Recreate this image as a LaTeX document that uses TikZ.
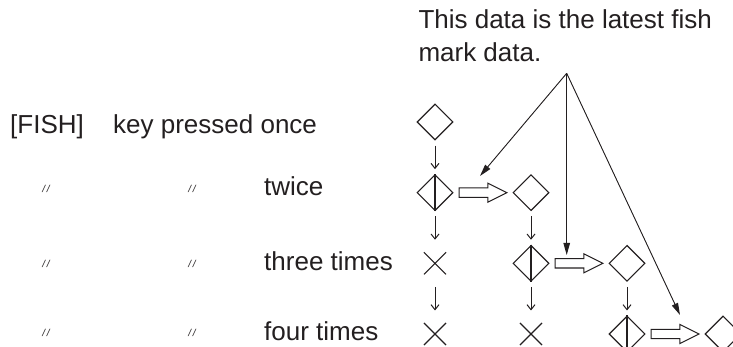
\documentclass[tikz,border=0pt]{standalone}
\usepackage{fontspec}
\setmainfont{Liberation Sans}
\usepackage{xcolor}
\usepackage{tikz}
\usetikzlibrary{arrows.meta,shapes.geometric,shapes.misc,calc}

\definecolor{ink}{RGB}{35,31,32}

% hollow block arrow between two marks
\newcommand{\blockarrow}[2]{%
  \draw[blockline] let \p1=(#1.east), \p2=(#2.west) in
    (\x1+5.5pt,\y1+4.7pt) -- (\x2-24.5pt,\y1+4.7pt) -- (\x2-24.5pt,\y1+9.5pt)
    -- (\x2-5.5pt,\y1) -- (\x2-24.5pt,\y1-9.5pt) -- (\x2-24.5pt,\y1-4.7pt)
    -- (\x1+5.5pt,\y1-4.7pt) -- cycle;}

\begin{document}
\begin{tikzpicture}[
  x=1pt, y=-1pt,
  every node/.style={font=\fontsize{26}{33}\selectfont, text=ink},
  fishmark/.style={diamond, draw=ink, line width=1.1pt, minimum size=36pt,
    inner sep=0pt},
  nomark/.style={cross out, draw=ink, line width=1.1pt, minimum size=21pt,
    inner sep=0pt},
  label/.style={anchor=base west, inner sep=0pt},
  ditto/.style={font=\fontsize{10}{10}\selectfont\itshape, inner sep=0pt},
  vstep/.style={-{Straight Barb[length=5pt,width=8pt]}, draw=ink,
    line width=1pt, shorten <=5pt, shorten >=5pt},
  blockline/.style={draw=ink, line width=1pt},
  pointer/.style={-{Triangle[length=12pt,width=6.5pt]}, draw=ink,
    fill=ink, line width=0.9pt},
]
\useasboundingbox (0,0) rectangle (733,347);

% Row labels
\node[label] (fish) at (10,134) {[FISH]};
\node[label] (once) at (113,134) {key pressed once};
\node[ditto] (d21) at (46,189) {/\kern1.5pt/};
\node[ditto] (d22) at (192,189) {/\kern1.5pt/};
\node[label] (twice) at (264,196) {twice};
\node[ditto] (d31) at (46,264) {/\kern1.5pt/};
\node[ditto] (d32) at (192,264) {/\kern1.5pt/};
\node[label] (three) at (264,270) {three times};
\node[ditto] (d41) at (46,333) {/\kern1.5pt/};
\node[ditto] (d42) at (192,333) {/\kern1.5pt/};
\node[label] (four) at (264,340) {four times};

% Note
\node[anchor=north west, align=left, inner sep=0pt] (note) at (418.3,9)
  {This data is the latest fish\\ mark data.};

% Fish marks
\node[fishmark] (m11) at (435,122) {};
\node[fishmark] (m21) at (435,192.7) {};
\node[fishmark] (m22) at (531,192.7) {};
\node[nomark]   (x31) at (435,263.3) {};
\node[fishmark] (m32) at (531,263.3) {};
\node[fishmark] (m33) at (627,263.3) {};
\node[nomark]   (x41) at (435,334) {};
\node[nomark]   (x42) at (531,334) {};
\node[fishmark] (m43) at (627,334) {};
\node[fishmark] (m44) at (723,334) {};

% Split marks
\draw[ink, line width=1.1pt] (m21.north) -- (m21.south);
\draw[ink, line width=1.1pt] (m32.north) -- (m32.south);
\draw[ink, line width=1.1pt] (m43.north) -- (m43.south);

% Step arrows
\draw[vstep] (m11) -- (m21);
\draw[vstep, shorten >=12.5pt] (m21) -- (x31);
\draw[vstep, shorten <=12.5pt, shorten >=12.5pt] (x31) -- (x41);
\draw[vstep] (m22) -- (m32);
\draw[vstep, shorten >=12.5pt] (m32) -- (x42);
\draw[vstep] (m33) -- (m43);

% Block arrows
\blockarrow{m21}{m22}
\blockarrow{m32}{m33}
\blockarrow{m43}{m44}

% Pointers from the note
\coordinate (src) at (566.7,73.3);
\coordinate (tip1) at (480,176);
\coordinate (tip2) at (566.7,255);
\coordinate (tip3) at (680,315);
\draw[pointer] (src) -- (tip1);
\draw[pointer] (src) -- (tip2);
\draw[pointer] (src) -- (tip3);

\end{tikzpicture}
\end{document}
